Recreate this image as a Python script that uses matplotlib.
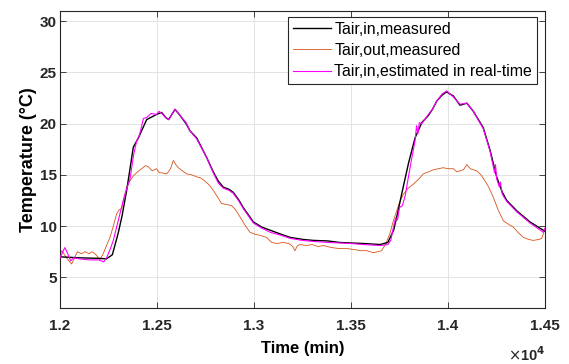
import matplotlib.pyplot as plt
from matplotlib.ticker import FuncFormatter

# time (min) and temperature (degC)
t_in = [12000, 12100, 12200, 12240, 12270, 12300, 12320, 12344, 12378, 12404,
        12447, 12498, 12524, 12545, 12560, 12580, 12593, 12619, 12650, 12670,
        12705, 12756, 12790, 12816, 12842, 12870, 12893, 12920, 12945, 12997,
        13040, 13083, 13140, 13186, 13250, 13306, 13380, 13443, 13500, 13563,
        13650, 13690, 13720, 13736, 13761, 13796, 13830, 13865, 13899, 13920,
        13942, 13970, 13993, 14010, 14028, 14062, 14097, 14131, 14182, 14217,
        14251, 14280, 14303, 14354, 14423, 14491, 14500]
T_in = [7.0, 6.9, 6.85, 6.8, 7.2, 9.3, 11.0, 13.5, 17.7, 18.6,
        20.4, 20.9, 21.1, 20.6, 20.4, 21.0, 21.4, 20.8, 20.0, 19.3,
        18.6, 16.7, 15.3, 14.4, 13.8, 13.6, 13.3, 12.6, 11.8, 10.4,
        9.9, 9.6, 9.2, 8.9, 8.7, 8.6, 8.55, 8.4, 8.35, 8.3,
        8.2, 8.4, 9.6, 10.9, 13.1, 16.1, 18.6, 20.1, 20.8, 21.4,
        22.2, 22.8, 23.1, 22.9, 22.7, 21.8, 22.0, 21.2, 19.6, 17.4,
        14.8, 13.3, 12.5, 11.5, 10.4, 9.6, 9.5]

t_out = [12000, 12010, 12030, 12050, 12060, 12075, 12090, 12110, 12130, 12150,
         12165, 12180, 12195, 12206, 12225, 12240, 12258, 12275, 12292, 12305,
         12318, 12330, 12344, 12360, 12378, 12400, 12421, 12440, 12455, 12475,
         12498, 12512, 12524, 12550, 12570, 12584, 12597, 12610, 12630, 12653,
         12680, 12705, 12725, 12747, 12770, 12790, 12810, 12833, 12860, 12885,
         12905, 12928, 12950, 12979, 13005, 13031, 13065, 13091, 13120, 13151,
         13180, 13200, 13211, 13225, 13237, 13270, 13300, 13330, 13357, 13400,
         13443, 13480, 13520, 13547, 13581, 13615, 13640, 13658, 13680, 13701,
         13718, 13736, 13750, 13770, 13795, 13822, 13850, 13873, 13900, 13925,
         13950, 13976, 14000, 14028, 14045, 14062, 14080, 14097, 14115, 14130,
         14148, 14170, 14191, 14210, 14234, 14260, 14286, 14310, 14337, 14360,
         14388, 14415, 14440, 14470, 14483, 14500]
T_out = [7.2, 7.6, 7.0, 6.5, 6.3, 6.9, 7.5, 7.3, 7.5, 7.3,
         7.5, 7.3, 7.0, 6.7, 7.4, 8.1, 8.9, 10.0, 11.2, 11.6,
         11.7, 12.8, 13.8, 14.4, 14.9, 15.3, 15.6, 15.9, 15.8, 15.4,
         15.6, 15.2, 15.2, 15.1, 15.6, 16.4, 16.0, 15.7, 15.4, 15.1,
         15.0, 14.8, 14.7, 14.4, 14.0, 13.5, 12.9, 12.2, 12.1, 12.0,
         11.6, 10.9, 10.2, 9.4, 9.2, 9.1, 8.9, 8.4, 8.3, 8.4,
         8.3, 8.0, 7.6, 8.1, 8.2, 8.1, 8.2, 8.0, 8.1, 7.9,
         7.8, 7.8, 7.7, 7.6, 7.6, 7.4, 7.5, 7.6, 8.3, 9.3,
         10.5, 11.5, 12.3, 13.1, 13.7, 14.1, 14.6, 15.1, 15.3, 15.5,
         15.6, 15.7, 15.6, 15.6, 15.3, 15.4, 15.5, 16.0, 15.6, 15.5,
         15.4, 15.0, 14.4, 13.8, 12.8, 11.5, 10.5, 10.2, 9.9, 9.4,
         8.9, 8.7, 8.6, 8.7, 8.8, 9.7]

t_est = [12000, 12015, 12025, 12040, 12055, 12070, 12100, 12150, 12200, 12225,
         12240, 12260, 12275, 12300, 12326, 12345, 12361, 12380, 12395, 12410,
         12430, 12447, 12470, 12498, 12510, 12524, 12545, 12560, 12580, 12593,
         12619, 12650, 12670, 12705, 12756, 12790, 12816, 12842, 12870, 12893,
         12920, 12945, 12997, 13040, 13083, 13140, 13186, 13250, 13306, 13380,
         13443, 13500, 13563, 13650, 13690, 13705, 13720, 13730, 13740, 13750,
         13765, 13780, 13796, 13815, 13830, 13838, 13845, 13852, 13865, 13899,
         13920, 13942, 13970, 13993, 14010, 14028, 14062, 14097, 14131, 14182,
         14217, 14240, 14245, 14251, 14265, 14270, 14280, 14303, 14354, 14423,
         14491, 14500]
T_est = [6.9, 7.5, 7.9, 7.3, 6.6, 6.9, 6.8, 6.7, 6.7, 6.5,
         6.9, 7.8, 8.6, 10.5, 12.5, 13.7, 14.6, 17.0, 18.3, 18.9,
         20.5, 20.6, 21.0, 20.9, 21.2, 21.0, 20.6, 20.4, 21.0, 21.4,
         20.8, 20.1, 19.3, 18.5, 16.7, 15.2, 14.2, 13.7, 13.5, 13.2,
         12.5, 11.7, 10.3, 9.8, 9.4, 9.1, 8.8, 8.6, 8.5, 8.4,
         8.35, 8.3, 8.2, 8.1, 8.2, 8.6, 10.0, 10.8, 10.6, 11.8,
         12.0, 13.0, 14.8, 16.8, 18.3, 19.8, 19.0, 20.1, 20.0, 20.9,
         21.4, 22.2, 22.9, 23.2, 22.9, 22.6, 21.9, 22.0, 21.2, 19.5,
         17.3, 15.2, 16.0, 14.6, 13.8, 14.3, 13.1, 12.4, 11.4, 10.3,
         9.4, 9.8]

x_ticks = [12000, 12500, 13000, 13500, 14000, 14500]
y_ticks = [5, 10, 15, 20, 25, 30]

plt.rcParams['font.family'] = ['Liberation Sans', 'DejaVu Sans']

fig = plt.figure(figsize=(5.69, 3.64), dpi=100)
ax = fig.add_axes([0.1054, 0.1538, 0.8524, 0.816])

ax.plot(t_in, T_in, color='black', lw=1.0, label='Tair,in,measured', zorder=3)
ax.plot(t_out, T_out, color='#D95319', lw=0.6, label='Tair,out,measured', zorder=2)
ax.plot(t_est, T_est, color='#FF00FF', lw=0.8, label='Tair,in,estimated in real-time', zorder=4)

ax.set_xlim(12000, 14500)
ax.set_ylim(2, 31)
ax.set_xticks(x_ticks)
ax.set_yticks(y_ticks)
ax.xaxis.set_major_formatter(FuncFormatter(lambda v, p: ('%g' % (v / 1e4))))
ax.grid(True, color='#E3E3E3', lw=0.7)
ax.set_axisbelow(True)

for s in ax.spines.values():
    s.set_color('#262626')
    s.set_linewidth(0.8)
ax.tick_params(direction='in', top=True, right=True, length=4, width=0.6,
               color='#262626', labelsize=11)
ax.tick_params(axis='x', pad=8)
ax.tick_params(axis='y', pad=2.5)
for lab in ax.get_xticklabels() + ax.get_yticklabels():
    lab.set_fontweight('bold')
    lab.set_color('#262626')

ax.set_xlabel('Time (min)', fontsize=12, fontweight='bold', labelpad=6)
ax.set_ylabel('Temperature (°C)', fontsize=13, fontweight='bold', labelpad=1.5)
ax.text(1.0, -0.158, r'$\times$10$^\mathbf{4}$', transform=ax.transAxes,
        ha='right', va='center', fontsize=10.5, fontweight='bold', color='#262626')

leg = ax.legend(loc='upper right', bbox_to_anchor=(0.9835, 0.98), fontsize=11.4,
                fancybox=False, edgecolor='#262626', framealpha=1,
                handlelength=2.4, handletextpad=0.25, labelspacing=0.4,
                borderpad=0.3, borderaxespad=0)
leg.get_frame().set_linewidth(0.8)

fig.savefig('out.png', dpi=100)
